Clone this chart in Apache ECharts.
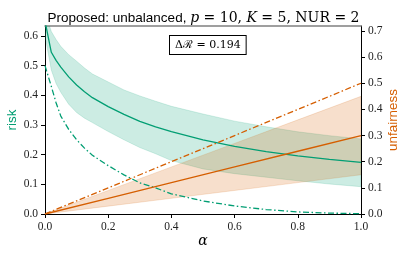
<!DOCTYPE html>
<html>
<head>
<meta charset="utf-8">
<script src="https://cdn.jsdelivr.net/npm/echarts@6/dist/echarts.min.js"></script>
<style>
html,body{margin:0;padding:0;background:#fff;}
#chart{width:407px;height:256px;}
</style>
</head>
<body>
<div id="chart"></div>
<script>
// ---- data ----
const alpha = [0, 0.02, 0.035, 0.05, 0.075, 0.1, 0.125, 0.15, 0.2, 0.25, 0.3, 0.35, 0.4, 0.5, 0.6, 0.7, 0.8, 0.9, 1.0];
const riskMean = [0.65, 0.545, 0.518, 0.495, 0.462, 0.435, 0.412, 0.392, 0.362, 0.336, 0.312, 0.294, 0.278, 0.250, 0.228, 0.210, 0.196, 0.184, 0.174];
const riskHigh = [0.68, 0.615, 0.588, 0.565, 0.537, 0.515, 0.492, 0.472, 0.445, 0.418, 0.398, 0.380, 0.363, 0.337, 0.313, 0.294, 0.277, 0.264, 0.253];
const riskLow  = [0.60, 0.485, 0.440, 0.410, 0.370, 0.342, 0.323, 0.308, 0.278, 0.250, 0.224, 0.203, 0.180, 0.152, 0.136, 0.124, 0.112, 0.101, 0.092];
const riskBaseline = [0.50, 0.43, 0.375, 0.33, 0.285, 0.25, 0.222, 0.198, 0.163, 0.132, 0.105, 0.088, 0.068, 0.044, 0.027, 0.015, 0.007, 0.003, 0.001];

const unfAlpha = [0, 0.2, 0.4, 0.6, 0.8, 1.0];
const unfMean = [0, 0.06, 0.12, 0.18, 0.24, 0.30];
const unfHigh = [0, 0.09, 0.18, 0.27, 0.36, 0.45];
const unfLow  = [0, 0.03, 0.06, 0.09, 0.12, 0.15];
const unfBaseline = [0, 0.10, 0.20, 0.30, 0.40, 0.50];

const deltaR = '0.194';

// ---- styling ----
const GREEN = '#029e73';
const ORANGE = '#d55e00';
const tickFont = {fontFamily: 'Liberation Serif', fontSize: 11.5, color: '#222'};
const dashDot = [6, 2.5, 1.5, 2.5];

function pairs(xs, ys){ return xs.map((x,i)=>[x, ys[i]]); }
function tickLabel(v){
  const r = Math.round(v * 10) / 10;
  return Math.abs(r - v) < 1e-6 ? r.toFixed(1) : '';
}

function bandSeries(xs, lo, hi, yIdx, color){
  return {
    type: 'custom', yAxisIndex: yIdx, clip: true, silent: true, z: 1,
    data: [0],
    renderItem: function(params, api){
      const pts = [];
      for (let i = 0; i < xs.length; i++) pts.push(api.coord([xs[i], hi[i]]));
      for (let i = xs.length - 1; i >= 0; i--) pts.push(api.coord([xs[i], lo[i]]));
      return {type: 'polygon', shape: {points: pts},
        style: {fill: color, stroke: color, lineWidth: 0.8, opacity: 1}};
    }
  };
}

function lineSeries(xs, ys, yIdx, color, type){
  return {
    type: 'line', yAxisIndex: yIdx, data: pairs(xs, ys), showSymbol: false, symbol: 'none',
    clip: true, z: 3, silent: true,
    lineStyle: {color: color, width: 1.3, type: type || 'solid'}
  };
}

const chart = echarts.init(document.getElementById('chart'), null, {renderer: 'canvas'});
chart.setOption({
  animation: false,
  backgroundColor: '#fff',
  title: {
    text: '{s|Proposed: unbalanced, }{i|p}{m| = 10, }{i|K}{m| = 5, NUR = 2}',
    left: 'center', top: 4,
    textStyle: {
      fontWeight: 'normal',
      rich: {
        s: {fontFamily: 'Liberation Sans', fontWeight: 'normal', fontSize: 13.5, color: '#000', lineHeight: 18},
        i: {fontFamily: 'DejaVu Serif', fontWeight: 'normal', fontStyle: 'italic', fontSize: 14, color: '#000', lineHeight: 18},
        m: {fontFamily: 'DejaVu Serif', fontWeight: 'normal', fontSize: 14, color: '#000', lineHeight: 18}
      }
    }
  },
  grid: {left: 45, right: 46, top: 26, bottom: 42, containLabel: false, outerBoundsMode: 'none'},
  xAxis: [{
    type: 'value', min: 0, max: 1, interval: 0.2, position: 'bottom',
    name: 'α', nameLocation: 'middle', nameGap: 20, nameMoveOverlap: false,
    nameTextStyle: {fontFamily: 'DejaVu Serif', fontStyle: 'italic', fontSize: 14, color: '#000'},
    axisLine: {show: true, onZero: false, lineStyle: {color: '#000', width: 1}},
    axisTick: {show: true, length: 4, lineStyle: {color: '#000'}},
    axisLabel: Object.assign({margin: 7, formatter: tickLabel}, tickFont),
    splitLine: {show: false}
  }, {
    type: 'value', min: 0, max: 1, position: 'top',
    axisLine: {show: true, onZero: false, lineStyle: {color: '#808080', width: 1.5}},
    axisTick: {show: false}, axisLabel: {show: false}, splitLine: {show: false}
  }],
  yAxis: [{
    type: 'value', min: 0, max: 0.6336, interval: 0.1, position: 'left',
    name: 'risk', nameLocation: 'middle', nameGap: 26, nameRotate: 90, nameMoveOverlap: false,
    nameTextStyle: {fontFamily: 'Liberation Sans', fontSize: 13.4, color: GREEN},
    axisLine: {show: true, onZero: false, lineStyle: {color: '#000', width: 1}},
    axisTick: {show: true, length: 4, lineStyle: {color: '#000'}},
    axisLabel: Object.assign({margin: 7, formatter: tickLabel, showMaxLabel: false}, tickFont),
    splitLine: {show: false}
  }, {
    type: 'value', min: 0, max: 0.719, interval: 0.1, position: 'right',
    name: 'unfairness', nameLocation: 'middle', nameGap: 26, nameRotate: 90, nameMoveOverlap: false,
    nameTextStyle: {fontFamily: 'Liberation Sans', fontSize: 13.4, color: ORANGE},
    axisLine: {show: true, onZero: false, lineStyle: {color: '#000', width: 1}},
    axisTick: {show: true, length: 4, lineStyle: {color: '#000'}},
    axisLabel: Object.assign({margin: 7, formatter: tickLabel, showMaxLabel: false}, tickFont),
    splitLine: {show: false}
  }],
  series: [
    bandSeries(alpha, riskLow, riskHigh, 0, 'rgba(2,158,115,0.2)'),
    bandSeries(unfAlpha, unfLow, unfHigh, 1, 'rgba(213,94,0,0.2)'),
    lineSeries(alpha, riskMean, 0, GREEN),
    lineSeries(alpha, riskBaseline, 0, GREEN, dashDot),
    lineSeries(unfAlpha, unfMean, 1, ORANGE),
    lineSeries(unfAlpha, unfBaseline, 1, ORANGE, dashDot)
  ],
  graphic: [{
    type: 'text', left: 169, top: 35, z: 10,
    style: {
      text: '{a|Δℛ = ' + deltaR + '}',
      backgroundColor: '#fff', borderColor: '#000', borderWidth: 1,
      padding: [3, 5, 2, 5],
      rich: {a: {fontFamily: 'DejaVu Serif', fontSize: 11, fill: '#000', lineHeight: 13}}
    }
  }]
});
</script>
</body>
</html>
